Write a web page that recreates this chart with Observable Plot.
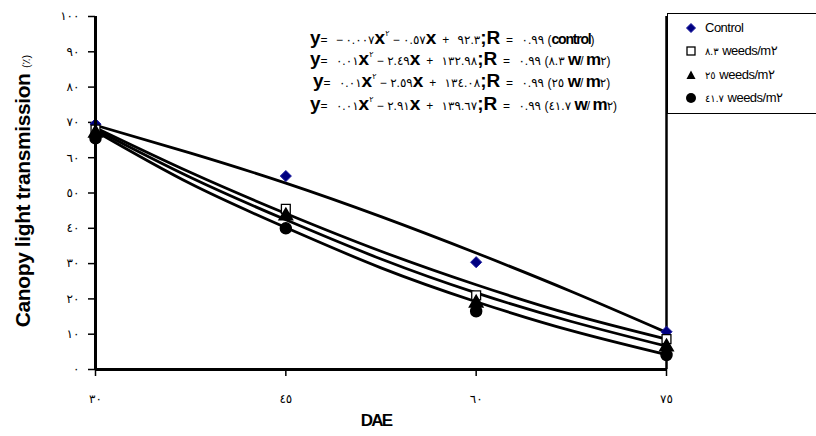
<!DOCTYPE html>
<html>
<head>
<meta charset="utf-8">
<script src="https://cdn.jsdelivr.net/npm/d3@7"></script>
<script src="https://cdn.jsdelivr.net/npm/@observablehq/plot@0.6"></script>
<style>
  html, body { margin: 0; padding: 0; background: #fff; overflow: hidden; }
  #wrap { position: relative; width: 816px; height: 436px; overflow: hidden;
          font-family: "Liberation Sans", "DejaVu Sans", sans-serif; }
  .eq { position: absolute; white-space: nowrap; color: #000; line-height: 1; }
  .eq, .eq * { direction: ltr; unicode-bidi: bidi-override; }
  .eq .v { font-weight: bold; font-size: 19px; }
  .eq .s { font-size: 12px; letter-spacing: 2.5px; }
  .eq sup { font-size: 8px; vertical-align: 8px; }
  .eq .c { font-weight: bold; font-size: 14px; letter-spacing: -1.2px; }
  .eq .u { font-weight: bold; font-size: 17px; letter-spacing: -1px; }
  #legend { position: absolute; left: 667px; top: 13px; width: 170px; height: 99px;
            border: 1px solid #000; background: #fff; }
  .li { position: absolute; left: 0; height: 20px; white-space: nowrap; font-size: 13px; letter-spacing: -0.5px; }
  .li svg { position: absolute; left: 16px; top: 3px; }
  .li span { position: absolute; left: 37px; top: 2px; }
  .li .n { font-size: 10px; }
  #ylab { position: absolute; left: 23px; top: 191px; transform: translate(-50%, -50%) rotate(-90deg);
          white-space: nowrap; font-size: 21px; font-weight: bold; letter-spacing: -0.4px; }
  #ylab .p { font-size: 11px; font-weight: normal; letter-spacing: 0; }
  #xlab { position: absolute; left: 376px; top: 421px; transform: translate(-50%, -50%);
          font-size: 17px; font-weight: bold; letter-spacing: -1.8px; }
</style>
</head>
<body>
<div id="wrap"></div>
<script>
// ---- data ----
const days = [30, 45, 60, 75];
const controlObs = [69.5, 54.8, 30.4, 10.7];
const w83Obs = [68.0, 45.5, 21.0, 8.6];
const w25Obs = [67.0, 43.5, 18.8, 6.4];
const w417Obs = [65.5, 40.0, 16.5, 4.1];

const fitDays = [30, 37.5, 45, 52.5, 60, 67.5, 75];
const controlFit = [69.2, 61.3, 52.8, 43.3, 33.0, 22.1, 10.5];
const w83Fit = [68.5, 55.8, 44.2, 33.5, 24.0, 15.6, 8.6];
const w25Fit = [68.0, 54.4, 42.4, 31.3, 21.7, 13.6, 6.6];
const w417Fit = [67.5, 52.6, 40.2, 28.8, 19.2, 11.0, 4.2];

const xTicks = [30, 45, 60, 75];
const yTicks = [0, 10, 20, 30, 40, 50, 60, 70, 80, 90, 100];

const seriesNames = ["control", "w83", "w25", "w417"];
const legendLabels = ["Control", "٨.٣ weeds/m٢", "٢٥ weeds/m٢", "٤١.٧ weeds/m٢"];
const equations = [
  ["−٠.٠٠٧", "٠.٥٧", "٩٢.٣", "control", true],
  ["٠.٠١", "٢.٤٩", "١٣٢.٩٨", "٨.٣", false],
  ["٠.٠١", "٢.٥٩", "١٣٤.٠٨", "٢٥", false],
  ["٠.٠١", "٢.٩١", "١٣٩.٦٧", "٤١.٧", false]
];
const rValue = "٠.٩٩";

// ---- helpers ----
const arabic = v => String(v).replace(/\d/g, d => "٠١٢٣٤٥٦٧٨٩"[+d]);

const obsArrays = [controlObs, w83Obs, w25Obs, w417Obs];
const fitArrays = [controlFit, w83Fit, w25Fit, w417Fit];
const obs = [];
obsArrays.forEach((arr, k) => arr.forEach((v, i) => obs.push({day: days[i], v, s: seriesNames[k]})));
const fits = [];
fitArrays.forEach((arr, k) => arr.forEach((v, i) => fits.push({day: fitDays[i], v, s: seriesNames[k]})));

const sel = s => obs.filter(d => d.s === s);

const chart = Plot.plot({
  width: 816,
  height: 436,
  marginLeft: 95,
  marginRight: 150,
  marginTop: 16,
  marginBottom: 67,
  style: {fontFamily: '"Liberation Sans", "DejaVu Sans", sans-serif', background: "transparent"},
  x: {domain: [30, 75]},
  y: {domain: [0, 100]},
  marks: [
    Plot.axisY({ticks: yTicks, tickFormat: arabic, tickSize: 7, tickPadding: 9, fontSize: 12, label: null, strokeWidth: 1.5}),
    Plot.axisX({ticks: xTicks, tickFormat: arabic, tickSize: 7, tickPadding: 18, fontSize: 12, label: null, strokeWidth: 1.5}),
    Plot.ruleX([75], {stroke: "#000", strokeWidth: 2.5}),
    Plot.line(fits, {x: "day", y: "v", z: "s", stroke: "#000", strokeWidth: 2.8, curve: "natural"}),
    Plot.dot(sel("control"), {x: "day", y: "v", symbol: "diamond2", r: 5, fill: "#000080", stroke: "#1a1aa0", strokeWidth: 1}),
    Plot.dot(sel("w83"), {x: "day", y: "v", symbol: "square", r: 5, fill: "#fff", stroke: "#000", strokeWidth: 1.3}),
    Plot.dot(sel("w25"), {x: "day", y: "v", symbol: "triangle", r: 5, fill: "#000", stroke: "#000"}),
    Plot.dot(sel("w417"), {x: "day", y: "v", symbol: "circle", r: 5.5, fill: "#000", stroke: "#000"}),
    Plot.ruleY([0], {stroke: "#000", strokeWidth: 3}),
    Plot.ruleX([30], {stroke: "#000", strokeWidth: 3})
  ]
});

const wrap = document.getElementById("wrap");
wrap.appendChild(chart);

// equations
const eqTops = [28, 49, 71, 94];
const eqLefts = [310, 310, 313, 310];
equations.forEach((e, i) => {
  const [a, b, c, tag, isControl] = e;
  const div = document.createElement("div");
  div.className = "eq";
  div.style.left = eqLefts[i] + "px";
  div.style.top = eqTops[i] + "px";
  const tail = isControl
    ? `<span class="s"> (</span><span class="c">${tag}</span><span class="s">)</span>`
    : `<span class="s"> (${tag} </span><span class="u">w</span><span class="s">/</span><span class="u">m</span><span class="s">٢)</span>`;
  div.innerHTML = `<span class="v">y</span><span class="s">= ${a}</span><span class="v">x</span><sup>٢</sup>` +
    `<span class="s"> − ${b}</span><span class="v">x</span><span class="s"> + ${c}</span><span class="v">;R</span>` +
    `<span class="s"> = ${rValue}</span>` + tail;
  wrap.appendChild(div);
});

// legend
const legend = document.createElement("div");
legend.id = "legend";
const symSvg = [
  `<svg width="14" height="14"><path d="M7,2.5L11.5,7L7,11.5L2.5,7Z" fill="#000080" stroke="#1a1aa0"/></svg>`,
  `<svg width="14" height="14"><rect x="3" y="3" width="8" height="8" fill="#fff" stroke="#000" stroke-width="1.3"/></svg>`,
  `<svg width="14" height="14"><path d="M7,2.5L11.5,11L2.5,11Z" fill="#000"/></svg>`,
  `<svg width="14" height="14"><circle cx="7" cy="7" r="5" fill="#000"/></svg>`
];
const legTops = [4, 27, 51, 74];
legendLabels.forEach((lab, i) => {
  const row = document.createElement("div");
  row.className = "li";
  row.style.top = legTops[i] + "px";
  const m = lab.match(/^([^ ]+) (.*)$/);
  const txt = i === 0 ? lab : `<span class="n" style="position:static">${m[1]}</span> ${m[2]}`;
  row.innerHTML = symSvg[i] + `<span>${txt}</span>`;
  legend.appendChild(row);
});
wrap.appendChild(legend);

// axis titles
const yl = document.createElement("div");
yl.id = "ylab";
yl.innerHTML = `Canopy light transmission <span class="p">(٪)</span>`;
wrap.appendChild(yl);
const xl = document.createElement("div");
xl.id = "xlab";
xl.textContent = "DAE";
wrap.appendChild(xl);
</script>
</body>
</html>
